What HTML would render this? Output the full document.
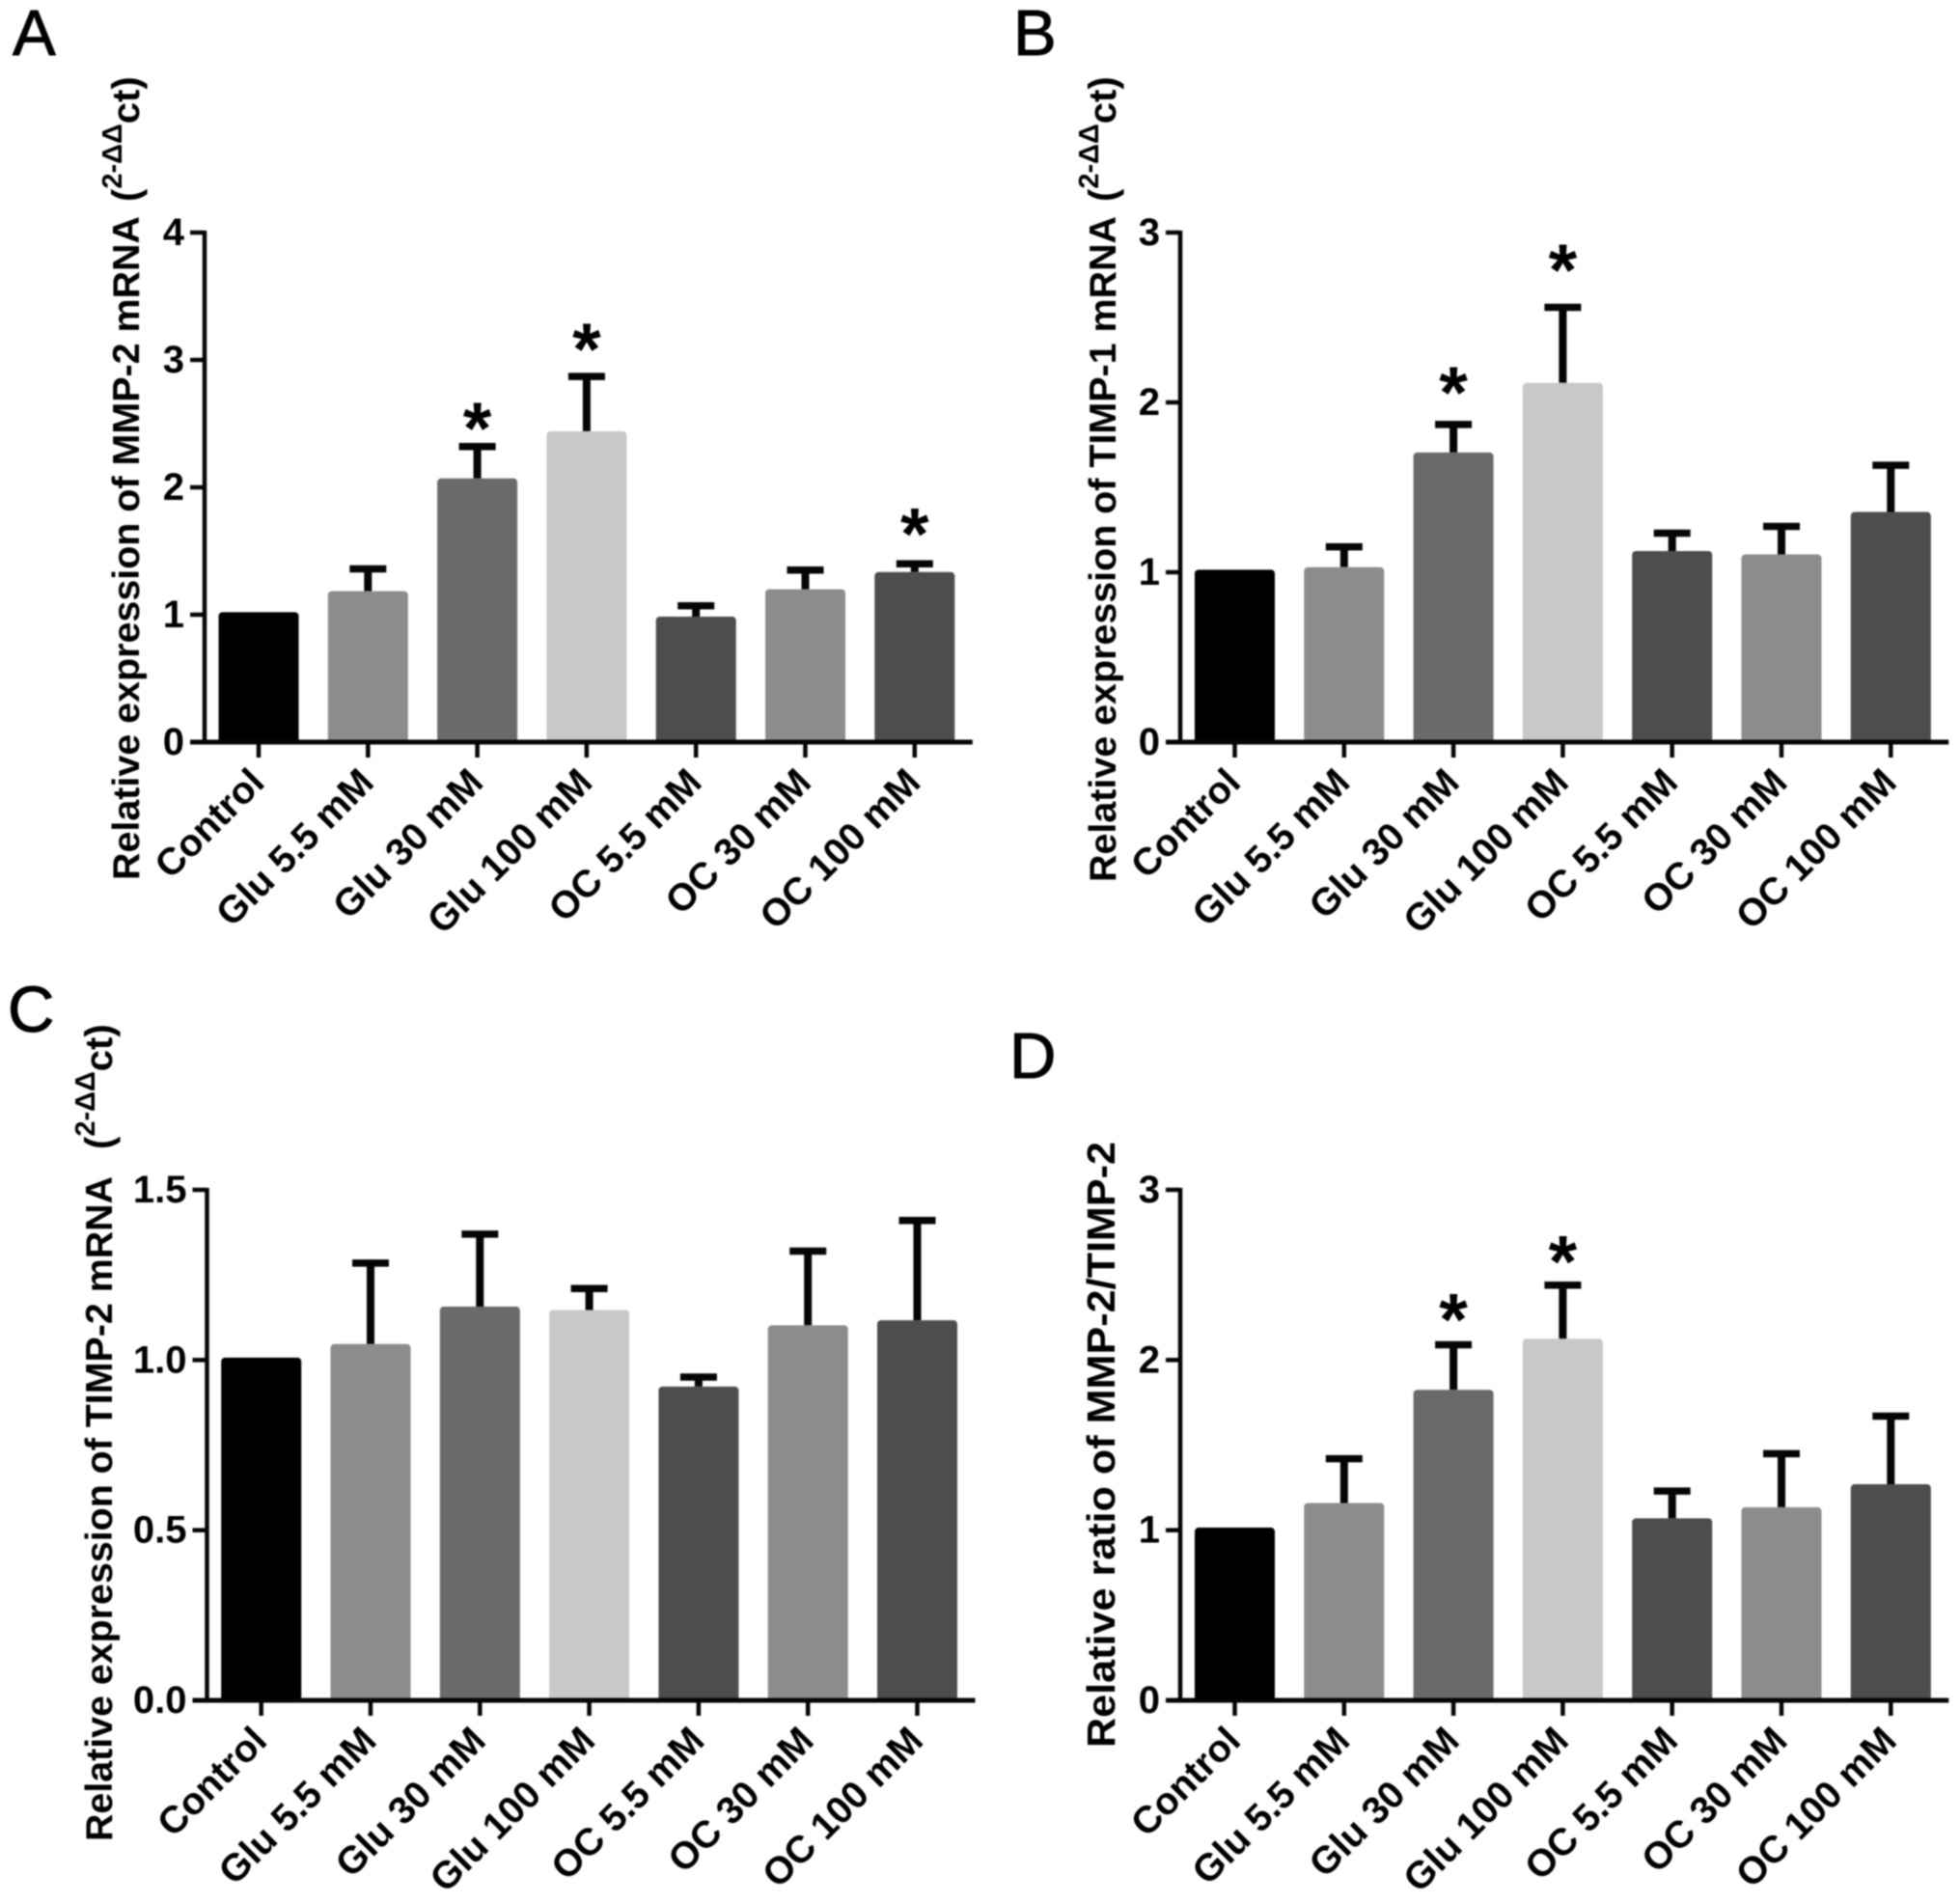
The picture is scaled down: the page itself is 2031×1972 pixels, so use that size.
<!DOCTYPE html>
<html lang="en">
<head>
<meta charset="utf-8">
<title>Relative expression bar charts</title>
<style>
html,body{margin:0;padding:0;background:#fff;}
svg{display:block;filter:blur(0.7px);}
text{font-family:"Liberation Sans",Arial,sans-serif;font-weight:bold;fill:#000;}
</style>
</head>
<body>
<svg id="figure" xmlns="http://www.w3.org/2000/svg" width="2031" height="1972" viewBox="0 0 2031 1972"></svg>
<script>
const categories = ["Control","Glu 5.5 mM","Glu 30 mM","Glu 100 mM","OC 5.5 mM","OC 30 mM","OC 100 mM"];
const barColors = ["#000000","#8c8c8c","#6a6a6a","#c8c8c8","#4d4d4d","#8c8c8c","#4d4d4d"];

const meansA = [1.02,1.185,2.07,2.44,0.985,1.2,1.335];
const errTopsA = [1.02,1.36,2.32,2.87,1.07,1.35,1.40];
const starsA = [null,null,2.60,3.22,null,null,1.77];
const ticksA = ["0","1","2","3","4"];

const meansB = [1.015,1.03,1.705,2.115,1.125,1.105,1.355];
const errTopsB = [1.015,1.15,1.87,2.56,1.23,1.27,1.63];
const starsB = [null,null,2.16,2.88,null,null,null];
const ticksB = ["0","1","2","3"];

const meansC = [1.007,1.047,1.157,1.147,0.922,1.102,1.117];
const errTopsC = [1.007,1.285,1.37,1.21,0.95,1.32,1.41];
const starsC = [null,null,null,null,null,null,null];
const ticksC = ["0.0","0.5","1.0","1.5"];

const meansD = [1.015,1.16,1.825,2.125,1.07,1.135,1.27];
const errTopsD = [1.015,1.42,2.09,2.44,1.23,1.45,1.67];
const starsD = [null,null,2.34,2.68,null,null,null];
const ticksD = ["0","1","2","3"];

const NS = "http://www.w3.org/2000/svg";
const svg = document.getElementById("figure");

function mk(tag, parent, attrs, txt){
  const el = document.createElementNS(NS, tag);
  for (const k in attrs) el.setAttribute(k, attrs[k]);
  if (txt !== undefined) el.textContent = txt;
  parent.appendChild(el);
  return el;
}

function drawPanel(o){
  const g = mk("g", svg, {});
  
  

  const maxV = parseFloat(o.ticks[o.ticks.length-1]);
  const yOf = v => o.base - (v / maxV) * (o.base - o.top);
  const xOf = i => o.c0 + i * 113.3;
  const BW = 83;

  const letter = mk("text", g, {x:o.lx, y:o.ly, "font-size":67, stroke:"#000", "stroke-width":1, style:"font-weight:normal"}, o.letter);
  
  

  // error bars behind bars
  o.means.forEach((m,i)=>{
    if (o.tops[i] <= m) return;
    const stem = mk("line", g, {x1:xOf(i), x2:xOf(i), y1:yOf(m), y2:yOf(o.tops[i]), stroke:"#050505", "stroke-width":8});
    
    
    const cap = mk("line", g, {x1:xOf(i)-19, x2:xOf(i)+19, y1:yOf(o.tops[i]), y2:yOf(o.tops[i]), stroke:"#050505", "stroke-width":7.5});
    
    
  });

  // bars
  o.means.forEach((m,i)=>{
    const bar = mk("rect", g, {x:xOf(i)-BW/2, y:yOf(m), width:BW, height:o.base-yOf(m)+1, rx:4, ry:4, fill:barColors[i]});
    
    
  });

  // stars
  o.stars.forEach((s,i)=>{
    if (s === null) return;
    const st = mk("text", g, {x:xOf(i), y:yOf(s)+44, "font-size":76, "text-anchor":"middle"}, "*");
    
    
  });

  // axes
  const yAxis = mk("line", g, {x1:o.ax, x2:o.ax, y1:o.top-2, y2:o.base+2, stroke:"#050505", "stroke-width":4.5});
  
  
  const xAxis = mk("line", g, {x1:o.ax-15, x2:xOf(6)+60, y1:o.base, y2:o.base, stroke:"#050505", "stroke-width":5});
  
  

  // y ticks
  o.ticks.forEach(t=>{
    const y = yOf(parseFloat(t));
    const tk = mk("line", g, {x1:o.ax-15, x2:o.ax, y1:y, y2:y, stroke:"#050505", "stroke-width":4.5});
    
    
    const lb = mk("text", g, {x:o.ax-21, y:y+13, "font-size":40, "text-anchor":"end"}, t);
    
    
  });

  // x ticks and labels
  categories.forEach((c,i)=>{
    const x = xOf(i);
    const tk = mk("line", g, {x1:x, x2:x, y1:o.base, y2:o.base+16, stroke:"#050505", "stroke-width":4.5});
    
    
    const px = x + 8, py = o.base + 44;
    const lb = mk("text", g, {x:px, y:py, "font-size":39.5, "text-anchor":"end", transform:"rotate(-45 "+px+" "+py+")"}, c);
    
    
  });

  // y title
  const yt = mk("text", g, {x:o.tx, y:o.tyBottom, "font-size":o.tSize, textLength:o.tLen, lengthAdjust:"spacingAndGlyphs",
    transform:"rotate(-90 "+o.tx+" "+o.tyBottom+")"}, o.title);
  
  

  // unit
  if (o.unitY !== null){
    const u = mk("text", g, {x:o.unitX, y:o.unitY, "font-size":40, transform:"rotate(-90 "+o.unitX+" "+o.unitY+")"});
    
    
    mk("tspan", u, {}, "(");
    mk("tspan", u, {"font-size":29, dy:-18}, "2-ΔΔ");
    mk("tspan", u, {dy:18}, "ct)");
  }
}

drawPanel({letter:"A", lx:13, ly:57, ax:212, base:769, top:241, c0:268,
  means:meansA, tops:errTopsA, stars:starsA, ticks:ticksA,
  title:"Relative expression of MMP-2 mRNA", tx:144, tyBottom:912, tLen:688, tSize:38.5, unitX:144, unitY:209});
drawPanel({letter:"B", lx:1050, ly:57, ax:1223, base:769, top:241, c0:1279.5,
  means:meansB, tops:errTopsB, stars:starsB, ticks:ticksB,
  title:"Relative expression of TIMP-1 mRNA", tx:1156, tyBottom:914, tLen:690, tSize:38.5, unitX:1156, unitY:209});
drawPanel({letter:"C", lx:8, ly:1069, ax:214.5, base:1762, top:1233, c0:270.7,
  means:meansC, tops:errTopsC, stars:starsC, ticks:ticksC,
  title:"Relative expression of TIMP-2 mRNA", tx:116, tyBottom:1908, tLen:689, tSize:38.5, unitX:116, unitY:1191});
drawPanel({letter:"D", lx:1046, ly:1117, ax:1223, base:1762, top:1233, c0:1279.5,
  means:meansD, tops:errTopsD, stars:starsD, ticks:ticksD,
  title:"Relative ratio of MMP-2/TIMP-2", tx:1155, tyBottom:1811, tLen:628, tSize:41, unitX:0, unitY:null});
</script>
</body>
</html>
